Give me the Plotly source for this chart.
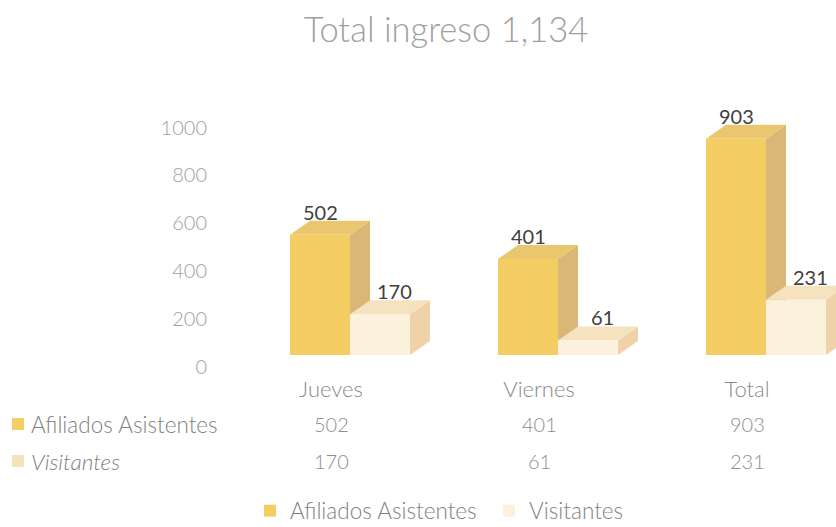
import plotly.graph_objects as go

# ---- data ----
categories = ["Jueves", "Viernes", "Total"]
series_names = ["Afiliados Asistentes", "Visitantes"]
afiliados = [502, 401, 903]
visitantes = [170, 61, 231]
title_text = "Total ingreso 1,134"
y_ticks = [0, 200, 400, 600, 800, 1000]

# ---- layout geometry ----
W, H = 836, 527
L, R, T, B = 215, 0, 100, 172
PW, PH = W - L - R, H - T - B
CAT0, CATSTEP = 331, 208
XR = [-(CAT0 - L) / CATSTEP, (W - CAT0) / CATSTEP]
YR = [0, 1065]
px_per_x = PW / (XR[1] - XR[0])
px_per_y = PH / (YR[1] - YR[0])

def paper_x(p):
    return (p - L) / PW

def paper_y(p):
    return (H - B - p) / PH

FONT = "Lato"
LIGHT = 300
colors_front = ["#F5CE63", "#FCF1DC"]
colors_side = ["#D9B877", "#F0D2A9"]
colors_top = ["#EAC66E", "#F6E2BF"]
width = 60 / px_per_x
offsets = [-41 / px_per_x, 19 / px_per_x]
dx = 20 / px_per_x
dy = 14 / px_per_y

fig = go.Figure()
values = [afiliados, visitantes]
for s, (name, vals) in enumerate(zip(series_names, values)):
    fig.add_trace(go.Bar(
        x=list(range(len(categories))), y=vals, name=name,
        width=width, offset=offsets[s],
        marker=dict(color=colors_front[s], line=dict(width=0)),
        hoverinfo="y+name",
    ))

shapes = []
annotations = []
for s, vals in enumerate(values):
    for i, v in enumerate(vals):
        xl = i + offsets[s]
        xr = xl + width
        # side face
        shapes.append(dict(
            type="path", xref="x", yref="y", layer="below",
            path=f"M{xr},0 L{xr+dx},{dy} L{xr+dx},{v+dy} L{xr},{v} Z",
            fillcolor=colors_side[s], line=dict(width=0)))
        # top face
        shapes.append(dict(
            type="path", xref="x", yref="y", layer="below",
            path=f"M{xl},{v} L{xl+dx},{v+dy} L{xr+dx},{v+dy} L{xr},{v} Z",
            fillcolor=colors_top[s], line=dict(width=0)))
        annotations.append(dict(
            x=(xl + xr) / 2, y=v + dy, xref="x", yref="y",
            text=str(v), showarrow=False, yanchor="bottom",
            xshift=0 if s == 0 else 14, yshift=-5,
            font=dict(family=FONT, size=20, color="#404040")))

# data table rows
row_pix = [424, 461]
marker_pix_x = 18
for s, (name, vals) in enumerate(zip(series_names, values)):
    py = row_pix[s]
    shapes.append(dict(
        type="rect", xref="paper", yref="paper",
        x0=paper_x(marker_pix_x - 6), x1=paper_x(marker_pix_x + 6),
        y0=paper_y(py + 6), y1=paper_y(py - 6),
        fillcolor=colors_front[s] if s == 0 else "#F3E3B8", line=dict(width=0)))
    annotations.append(dict(
        x=paper_x(29), y=paper_y(py), xref="paper", yref="paper",
        text=name if s == 0 else f"<i>{name}</i>", showarrow=False,
        xanchor="left", yanchor="middle",
        font=dict(family=FONT, size=22.5, color="#7f7f7f", weight=LIGHT)))
    for i, v in enumerate(vals):
        annotations.append(dict(
            x=i, y=paper_y(py), xref="x", yref="paper",
            text=str(v), showarrow=False, yanchor="middle",
            font=dict(family=FONT, size=20, color="#8f8f8f", weight=LIGHT)))

fig.update_layout(
    width=W, height=H,
    margin=dict(l=L, r=R, t=T, b=B, autoexpand=False),
    paper_bgcolor="white", plot_bgcolor="white",
    title=dict(text=title_text, x=446 / W, xanchor="center",
               y=1 - 30 / H, yanchor="middle",
               font=dict(family=FONT, size=34.5, color="#a0a0a0", weight=LIGHT)),
    barmode="overlay",
    bargap=0,
    showlegend=True,
    legend=dict(orientation="h", xref="container", yref="container",
                x=250 / W, xanchor="left", y=1 - 511 / H, yanchor="middle",
                font=dict(family=FONT, size=22.5, color="#7f7f7f", weight=LIGHT),
                entrywidth=194, entrywidthmode="pixels",
                itemwidth=30, bgcolor="rgba(0,0,0,0)"),
    xaxis=dict(type="linear", range=XR, tickvals=list(range(len(categories))),
               ticktext=categories, showgrid=False, zeroline=False,
               showline=False, ticks="", ticklabelstandoff=19,
               tickfont=dict(family=FONT, size=22, color="#8a8a8a", weight=LIGHT)),
    yaxis=dict(range=YR, tickvals=y_ticks, showgrid=False, zeroline=False,
               showline=False, ticks="", ticklabelshift=12,
               ticklabelstandoff=7,
               tickfont=dict(family=FONT, size=20, color="#a0a0a0", weight=LIGHT)),
    shapes=shapes, annotations=annotations,
)
fig.update_traces(cliponaxis=False)

fig.write_html("out.html", config={"displayModeBar": False},
               post_script="document.body.style.margin='0';document.body.style.padding='0';")
